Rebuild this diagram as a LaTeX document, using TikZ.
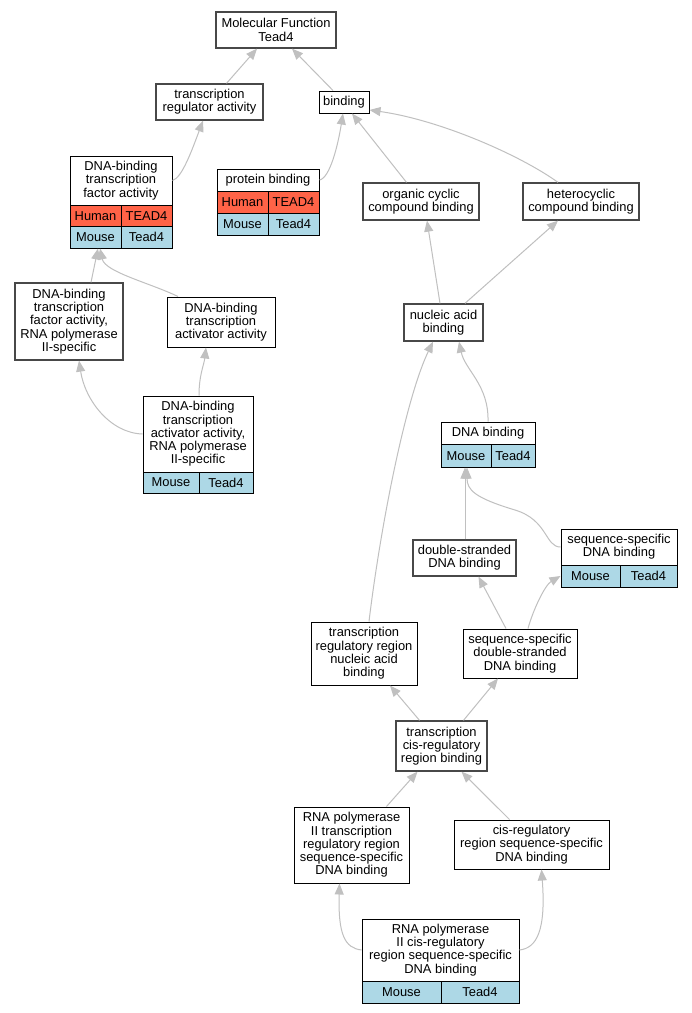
\documentclass[tikz,border=0pt]{standalone}
\usepackage{fontspec}
\setmainfont{Liberation Sans}
\usetikzlibrary{arrows.meta}
\definecolor{human}{HTML}{FF6347}
\definecolor{mouse}{HTML}{ADD8E6}
\definecolor{edgegray}{HTML}{C0C0C0}
\definecolor{boxgray}{HTML}{484848}
\begin{document}
\begin{tikzpicture}[x=1pt,y=-1pt,
  every node/.style={font=\fontsize{12.9}{13.3}\selectfont, inner sep=0pt, align=center},
  box/.style={draw=boxgray, line width=1.3pt, fill=white},
  tbox/.style={draw=black, line width=1pt, fill=white},
  hcell/.style={draw=black, line width=1pt, fill=human},
  mcell/.style={draw=black, line width=1pt, fill=mouse},
  edge/.style={draw=edgegray, line width=1pt, -{Triangle[length=11pt,width=9pt,fill=edgegray]}}]
\useasboundingbox (0,0) rectangle (692,1013);
\fill[white] (0,0) rectangle (692,1013);

% plain boxes
\node[box, minimum width=120, minimum height=36] (mf) at (276,30) {Molecular Function\\Tead4};
\node[box, minimum width=107, minimum height=36] (tra) at (209.5,102) {transcription\\regulator activity};
\node[tbox, minimum width=50, minimum height=22] (bind) at (344,102) {binding};
\node[box, minimum width=116, minimum height=37] (occb) at (421,201.5) {organic cyclic\\compound binding};
\node[box, minimum width=116, minimum height=37] (hcb) at (581,201.5) {heterocyclic\\compound binding};
\node[box, minimum width=79, minimum height=37] (nab) at (443.5,322.5) {nucleic acid\\binding};
\node[box, minimum width=108, minimum height=77] (dbtfa2) at (69,321.5) {DNA-binding\\transcription\\factor activity,\\RNA polymerase\\II-specific};
\node[tbox, minimum width=108, minimum height=50] (dbtaa) at (221,322) {DNA-binding\\transcription\\activator activity};
\node[box, minimum width=103, minimum height=36] (dsdb) at (464.5,558) {double-stranded\\DNA binding};
\node[tbox, minimum width=106, minimum height=63] (trrnab) at (364,653.5) {transcription\\regulatory region\\nucleic acid\\binding};
\node[tbox, minimum width=114, minimum height=49] (ssdsdb) at (520,653.5) {sequence-specific\\double-stranded\\DNA binding};
\node[box, minimum width=91, minimum height=50] (tcrb) at (441.5,746) {transcription\\cis-regulatory\\region binding};
\node[tbox, minimum width=115, minimum height=76] (rnap) at (351.5,845) {RNA polymerase\\II transcription\\regulatory region\\sequence-specific\\DNA binding};
\node[tbox, minimum width=155, minimum height=49] (crss) at (531.5,844.5) {cis-regulatory\\region sequence-specific\\DNA binding};

% table boxes
\node[tbox, minimum width=102, minimum height=49] (dbtfa) at (121,180.5) {DNA-binding\\transcription\\factor activity};
\node[hcell, minimum width=51, minimum height=21.5] (dbtfaH1) at (95.5,215.75) {Human};
\node[hcell, minimum width=51, minimum height=21.5] (dbtfaH2) at (146.5,215.75) {TEAD4};
\node[mcell, minimum width=51, minimum height=21.5] (dbtfaM1) at (95.5,237.25) {Mouse};
\node[mcell, minimum width=51, minimum height=21.5] (dbtfaM2) at (146.5,237.25) {Tead4};

\node[tbox, minimum width=102, minimum height=22] (pb) at (268,180) {protein binding};
\node[hcell, minimum width=51, minimum height=22] (pbH1) at (242.5,202) {Human};
\node[hcell, minimum width=51, minimum height=22] (pbH2) at (293.5,202) {TEAD4};
\node[mcell, minimum width=51, minimum height=22] (pbM1) at (242.5,224) {Mouse};
\node[mcell, minimum width=51, minimum height=22] (pbM2) at (293.5,224) {Tead4};

\node[tbox, minimum width=110, minimum height=76] (dbtaa2) at (198,434) {DNA-binding\\transcription\\activator activity,\\RNA polymerase\\II-specific};
\node[mcell, minimum width=56, minimum height=21] (dbtaa2M1) at (171,482.5) {Mouse};
\node[mcell, minimum width=54, minimum height=21] (dbtaa2M2) at (226,482.5) {Tead4};

\node[tbox, minimum width=94, minimum height=22.5] (dnab) at (488,433.25) {DNA binding};
\node[mcell, minimum width=50, minimum height=22.5] (dnabM1) at (466,455.75) {Mouse};
\node[mcell, minimum width=44, minimum height=22.5] (dnabM2) at (513,455.75) {Tead4};

\node[tbox, minimum width=116, minimum height=36] (ssdb) at (619,547) {sequence-specific\\DNA binding};
\node[mcell, minimum width=59, minimum height=22] (ssdbM1) at (590.5,576) {Mouse};
\node[mcell, minimum width=57, minimum height=22] (ssdbM2) at (648.5,576) {Tead4};

\node[tbox, minimum width=157, minimum height=62] (rnap2) at (440.5,950) {RNA polymerase\\II cis-regulatory\\region sequence-specific\\DNA binding};
\node[mcell, minimum width=79, minimum height=22] (rnap2M1) at (401.5,992) {Mouse};
\node[mcell, minimum width=78, minimum height=22] (rnap2M2) at (480,992) {Tead4};

% edges
\draw[edge] ([xshift=17]tra.north) -- ([xshift=-19]mf.south);
\draw[edge] ([xshift=-11]bind.north) -- ([xshift=16]mf.south);
\draw[edge] (dbtfa.east) .. controls (182,178) and (192,150) .. ([xshift=-6.5]tra.south);
\draw[edge] (pb.east) .. controls (330,178) and (338,145) .. ([xshift=-1]bind.south);
\draw[edge] ([xshift=-14.5]occb.north) -- ([xshift=8]bind.south);
\draw[edge] ([xshift=-23]hcb.north) .. controls (520,155) and (440,120) .. ([yshift=-8]bind.east);
\draw[edge] ([xshift=-3.5]nab.north) -- ([xshift=6]occb.south);
\draw[edge] ([xshift=21.5]nab.north) -- ([xshift=-23]hcb.south);
\draw[edge] ([xshift=22]dbtfa2.north) -- ([xshift=2.5]dbtfaM1.south);
\draw[edge] ([xshift=-43]dbtaa.north) .. controls (150,283) and (105,272) .. ([xshift=4.5]dbtfaM1.south);
\draw[edge] (dbtaa2.west) .. controls (110,433) and (85,400) .. ([xshift=10]dbtfa2.south);
\draw[edge] ([xshift=1]dbtaa2.north) .. controls (199,375) and (204,365) .. ([xshift=-15]dbtaa.south);
\draw[edge] ([xshift=5]trrnab.north) .. controls (380,530) and (405,400) .. ([xshift=-10.5]nab.south);
\draw[edge] (dnab.north) .. controls (489,385) and (465,370) .. ([xshift=15.5]nab.south);
\draw[edge] ([xshift=0.5]dsdb.north) -- ([xshift=-1]dnabM1.south);
\draw[edge] (ssdb.west) .. controls (545,547) and (548,520) .. (515,510) .. controls (475,498) and (467,490) .. ([xshift=1]dnabM1.south);
\draw[edge] ([xshift=-14]ssdsdb.north) -- ([xshift=14]dsdb.south);
\draw[edge] ([xshift=8]ssdsdb.north) .. controls (533,610) and (545,585) .. (ssdbM1.west);
\draw[edge] ([xshift=-22]tcrb.north) -- ([xshift=26]trrnab.south);
\draw[edge] ([xshift=22]tcrb.north) -- ([xshift=-22]ssdsdb.south);
\draw[edge] ([xshift=35]rnap.north) -- ([xshift=-24]tcrb.south);
\draw[edge] ([xshift=-22]crss.north) -- ([xshift=20]tcrb.south);
\draw[edge] (rnap2.west) .. controls (345,948) and (338,935) .. ([xshift=-12]rnap.south);
\draw[edge] (rnap2.east) .. controls (537,948) and (546,930) .. ([xshift=10]crss.south);
\end{tikzpicture}
\end{document}
